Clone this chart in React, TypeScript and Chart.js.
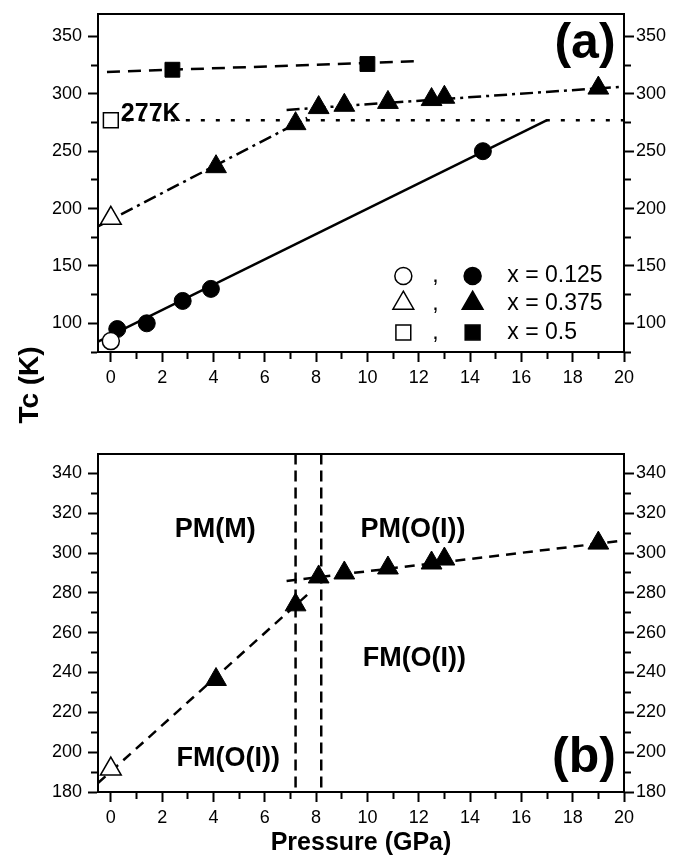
import React, { useEffect, useRef } from 'react';
import { Chart, registerables } from 'chart.js';

Chart.register(...registerables);

const FONT = '"Liberation Sans", Arial, Helvetica, sans-serif';
const W = 683;
const H1 = 440;
const H2 = 418;

// ---------- data ----------
// x = 0.125
const c125OpenX = [0];
const c125OpenY = [84.5];
const c125X = [0.25, 1.4, 2.8, 3.9, 14.5];
const c125Y = [95, 100, 119.5, 130, 250];
const fit125X = [-0.5, 17];
const fit125Y = [84, 277];

// x = 0.375
const t375OpenX = [0];
const t375OpenY = [191.5];
const t375X = [4.1, 7.2, 8.1, 9.1, 10.8, 12.5, 13.0, 19.0];
const t375Y = [236.5, 274, 288, 290, 292.5, 295, 297, 305];
const fitLowX = [-0.5, 7.65];
const fitLowY = [184.5, 279];
const fitHighX = [6.85, 20];
const fitHighY = [286, 306.3];

// x = 0.5
const s5OpenX = [0];
const s5OpenY = [277];
const s5X = [2.4, 10];
const s5Y = [321, 326];
const fit5X = [-0.15, 12];
const fit5Y = [319, 328.5];

// 277 K reference line
const refX = [0, 20];
const refY = [277, 277];

// phase boundaries (panel b)
const boundaryP = [7.2, 8.2];

const xRange = [-0.5, 20];
const topYRange = [75, 370];
const botYRange = [180, 350];

const legendLabels = ['x = 0.125', 'x = 0.375', 'x = 0.5'];
const legendShapes = ['circle', 'triangle', 'rect'];

const phaseLabels = ['PM(M)', 'PM(O(I))', 'FM(O(I))', 'FM(O(I))'];

// ---------- helpers ----------
const R_CIRCLE = 8.5;
const R_TRI = 12;
const R_RECT = 10.5;

const pts = (xs: number[], ys: number[]) => xs.map((x, i) => ({ x, y: ys[i] }));

function drawMarker(ctx: CanvasRenderingContext2D, shape: string, x: number, y: number, filled: boolean) {
  ctx.beginPath();
  if (shape === 'circle') {
    ctx.arc(x, y, R_CIRCLE, 0, Math.PI * 2);
  } else if (shape === 'triangle') {
    const r = R_TRI;
    for (let k = 0; k < 3; k++) {
      const a = (k * 2 * Math.PI) / 3;
      const px = x + Math.sin(a) * r;
      const py = y - Math.cos(a) * r;
      if (k === 0) ctx.moveTo(px, py);
      else ctx.lineTo(px, py);
    }
    ctx.closePath();
  } else {
    const s = R_RECT * Math.SQRT1_2;
    ctx.rect(x - s, y - s, 2 * s, 2 * s);
  }
  ctx.fillStyle = filled ? '#000' : '#fff';
  ctx.fill();
  ctx.lineWidth = 1.5;
  ctx.strokeStyle = '#000';
  ctx.stroke();
}

type Txt = { text: string; x: number; y: number; size: number; bold: boolean; align: CanvasTextAlign };

function textPlugin(id: string, texts: Txt[], extra?: (chart: any) => void) {
  return {
    id,
    afterDatasetsDraw(chart: any) {
      const { ctx, scales } = chart;
      const xs = scales.x;
      const ys = scales.y;
      ctx.save();
      ctx.fillStyle = '#000';
      ctx.textBaseline = 'middle';
      for (const t of texts) {
        ctx.font = `${t.bold ? 'bold ' : ''}${t.size}px ${FONT}`;
        ctx.textAlign = t.align;
        ctx.fillText(t.text, xs.getPixelForValue(t.x), ys.getPixelForValue(t.y));
      }
      ctx.restore();
      if (extra) extra(chart);
    },
  };
}

function markerDS(data: any[], shape: string, radius: number, filled: boolean) {
  return {
    data,
    showLine: false,
    pointStyle: shape,
    pointRadius: radius,
    pointHoverRadius: radius,
    pointBackgroundColor: filled ? '#000' : '#fff',
    pointBorderColor: '#000',
    pointBorderWidth: filled ? 1 : 1.5,
    order: 0,
  };
}

function lineDS(data: any[], dash: number[], width = 2.5) {
  return {
    data,
    showLine: true,
    borderColor: '#000',
    borderWidth: width,
    borderDash: dash,
    pointRadius: 0,
    pointHoverRadius: 0,
    fill: false,
    tension: 0,
    order: 1,
  };
}

function buildOptions(
  yMin: number,
  yMax: number,
  yStep: number,
  yMajor: number,
  xAxisHeight: number,
  topPad: number,
  xTitle: string | null
) {
  const tickFont = { family: FONT, size: 18 };
  const minorY = (v: number) => Math.abs(v % yMajor) > 1e-6;
  const minorX = (v: number) => Math.abs(v % 2) > 1e-6;
  const border = { display: true, color: '#000', width: 2 };
  const zeroPad = (s: any) => {
    s.paddingLeft = 0;
    s.paddingRight = 0;
    s.paddingTop = 0;
    s.paddingBottom = 0;
  };
  const yTicks = (pad: number) => ({
    stepSize: yStep,
    autoSkip: false,
    includeBounds: false,
    padding: pad,
    color: '#000',
    font: tickFont,
    callback: (v: number) => (minorY(v) ? '' : String(v)),
  });
  const filterY = (s: any) => {
    s.ticks = s.ticks.filter((t: any) => t.value <= yMax - 5);
  };
  return {
    responsive: false,
    animation: false,
    devicePixelRatio: 1,
    layout: { padding: { top: topPad, left: 0, right: 0, bottom: 0 } },
    plugins: { legend: { display: false }, tooltip: { enabled: false } },
    scales: {
      x: {
        type: 'linear',
        position: 'bottom',
        min: xRange[0],
        max: xRange[1],
        border,
        grid: {
          display: true,
          drawOnChartArea: false,
          drawTicks: true,
          tickLength: 10,
          tickWidth: 2,
          tickColor: '#000',
          tickBorderDash: (c: any) => (c.tick && minorX(c.tick.value) ? [6, 50] : []),
        },
        ticks: {
          stepSize: 1,
          autoSkip: false,
          includeBounds: false,
          maxRotation: 0,
          padding: 5,
          color: '#000',
          font: tickFont,
          callback: (v: number) => (minorX(v) ? '' : String(v)),
        },
        title: {
          display: !!xTitle,
          text: xTitle || '',
          color: '#000',
          font: { family: FONT, size: 25, weight: 'bold' },
          padding: { top: 0, bottom: 0 },
        },
        afterFit: (s: any) => {
          s.height = xAxisHeight;
          zeroPad(s);
        },
      },
      xTop: {
        type: 'linear',
        position: 'top',
        min: xRange[0],
        max: xRange[1],
        border,
        grid: { display: true, drawOnChartArea: false, drawTicks: false },
        ticks: { display: false },
        afterFit: (s: any) => {
          s.height = 0;
          zeroPad(s);
        },
      },
      y: {
        type: 'linear',
        position: 'left',
        min: yMin,
        max: yMax,
        border,
        grid: {
          display: true,
          drawOnChartArea: false,
          drawTicks: true,
          tickLength: 10,
          tickWidth: 2,
          tickColor: '#000',
          tickBorderDash: (c: any) => (c.tick && minorY(c.tick.value) ? [0, 3, 6, 50] : []),
        },
        ticks: yTicks(6),
        afterBuildTicks: filterY,
        afterFit: (s: any) => {
          s.width = 98;
          zeroPad(s);
        },
      },
      yR: {
        type: 'linear',
        position: 'right',
        min: yMin,
        max: yMax,
        border,
        grid: {
          display: true,
          drawOnChartArea: false,
          drawTicks: true,
          tickLength: 10,
          tickWidth: 2,
          tickColor: '#000',
          tickBorderDash: (c: any) => (c.tick && minorY(c.tick.value) ? [6, 50] : []),
        },
        ticks: yTicks(2),
        afterBuildTicks: filterY,
        afterFit: (s: any) => {
          s.width = W - 624;
          zeroPad(s);
        },
      },
    },
  };
}

// ---------- component ----------
export default function App() {
  const topRef = useRef<HTMLCanvasElement | null>(null);
  const botRef = useRef<HTMLCanvasElement | null>(null);

  useEffect(() => {
    if (!topRef.current || !botRef.current) return;

    const topTexts: Txt[] = [
      { text: '(a)', x: 18.48, y: 343, size: 50, bold: true, align: 'center' },
      { text: '277K', x: 0.39, y: 282, size: 25, bold: true, align: 'left' },
    ];
    const legendRowY = [141.3, 117.5, 92];

    const topLegend = (chart: any) => {
      const { ctx, scales } = chart;
      const xs = scales.x;
      const ys = scales.y;
      ctx.save();
      legendLabels.forEach((lab, i) => {
        const py = ys.getPixelForValue(legendRowY[i]);
        drawMarker(ctx, legendShapes[i], xs.getPixelForValue(11.4), py, false);
        drawMarker(ctx, legendShapes[i], xs.getPixelForValue(14.1), py, true);
        ctx.fillStyle = '#000';
        ctx.font = `23px ${FONT}`;
        ctx.textBaseline = 'middle';
        ctx.textAlign = 'center';
        ctx.fillText(',', xs.getPixelForValue(12.65), py);
        ctx.textAlign = 'left';
        ctx.fillText(lab, xs.getPixelForValue(15.45), py);
      });
      // y-axis title shared by both panels
      ctx.save();
      ctx.translate(30, 385);
      ctx.rotate(-Math.PI / 2);
      ctx.font = `bold 28px ${FONT}`;
      ctx.textAlign = 'center';
      ctx.textBaseline = 'middle';
      ctx.fillText('Tc (K)', 0, 0);
      ctx.restore();
      ctx.restore();
    };

    const top = new Chart(topRef.current, {
      type: 'line',
      data: {
        datasets: [
          markerDS(pts(c125OpenX, c125OpenY), 'circle', R_CIRCLE, false),
          markerDS(pts(c125X, c125Y), 'circle', R_CIRCLE, true),
          markerDS(pts(t375OpenX, t375OpenY), 'triangle', R_TRI, false),
          markerDS(pts(t375X, t375Y), 'triangle', R_TRI, true),
          markerDS(pts(s5OpenX, s5OpenY), 'rect', R_RECT, false),
          markerDS(pts(s5X, s5Y), 'rect', R_RECT, true),
          lineDS(pts(fit125X, fit125Y), []),
          lineDS(pts(fitLowX, fitLowY), [13, 5, 3, 5]),
          lineDS(pts(fitHighX, fitHighY), [13, 5, 3, 5]),
          lineDS(pts(fit5X, fit5Y), [13, 8]),
          lineDS(pts(refX, refY), [4, 11]),
        ],
      } as any,
      options: buildOptions(topYRange[0], topYRange[1], 25, 50, H1 - 352, 7, null) as any,
      plugins: [textPlugin('topTexts', topTexts, topLegend)],
    });

    const botTexts: Txt[] = [
      { text: '(b)', x: 18.44, y: 196.8, size: 50, bold: true, align: 'center' },
      { text: phaseLabels[0], x: 4.07, y: 312, size: 27, bold: true, align: 'center' },
      { text: phaseLabels[1], x: 11.78, y: 312, size: 27, bold: true, align: 'center' },
      { text: phaseLabels[2], x: 11.83, y: 247, size: 27, bold: true, align: 'center' },
      { text: phaseLabels[3], x: 4.58, y: 197, size: 27, bold: true, align: 'center' },
    ];

    const bot = new Chart(botRef.current, {
      type: 'line',
      data: {
        datasets: [
          markerDS(pts(t375OpenX, t375OpenY), 'triangle', R_TRI, false),
          markerDS(pts(t375X, t375Y), 'triangle', R_TRI, true),
          lineDS(pts(fitLowX, fitLowY), [10, 7]),
          lineDS(pts(fitHighX, fitHighY), [10, 7]),
          lineDS(pts([boundaryP[0], boundaryP[0]], [botYRange[1], botYRange[0]]), [11, 6], 2.5),
          lineDS(pts([boundaryP[1], boundaryP[1]], [botYRange[1], botYRange[0]]), [11, 6], 2.5),
        ],
      } as any,
      options: buildOptions(botYRange[0], botYRange[1], 10, 20, H2 - 352, 6, 'Pressure (GPa)') as any,
      plugins: [textPlugin('botTexts', botTexts)],
    });

    return () => {
      top.destroy();
      bot.destroy();
    };
  }, []);

  return (
    <div style={{ position: 'absolute', left: 0, top: 0, width: W, height: 858, background: '#fff' }}>
      <canvas
        ref={topRef}
        width={W}
        height={H1}
        style={{ position: 'absolute', left: 0, top: 0, width: W, height: H1 }}
      />
      <canvas
        ref={botRef}
        width={W}
        height={H2}
        style={{ position: 'absolute', left: 0, top: H1, width: W, height: H2 }}
      />
    </div>
  );
}
